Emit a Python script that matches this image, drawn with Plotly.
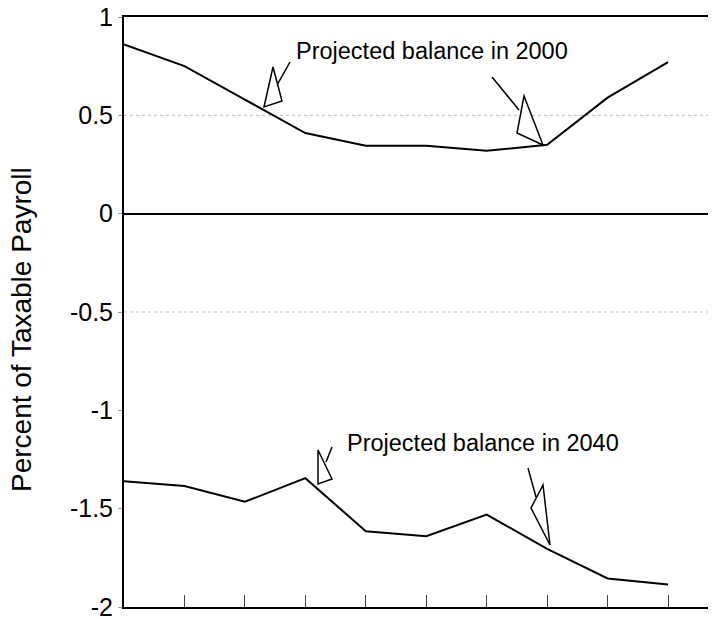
import plotly.graph_objects as go

# ---- data ----
x_index = [0, 1, 2, 3, 4, 5, 6, 7, 8, 9]
balance_2000 = [0.86, 0.75, 0.58, 0.41, 0.345, 0.345, 0.32, 0.35, 0.59, 0.77]
balance_2040 = [-1.36, -1.385, -1.465, -1.345, -1.615, -1.64, -1.53, -1.705, -1.855, -1.885]
y_tick_vals = [1, 0.5, 0, -0.5, -1, -1.5, -2]
y_tick_text = ["1", "0.5", "0", "-0.5", "-1", "-1.5", "-2"]
x_tick_vals = [1, 2, 3, 4, 5, 6, 7, 8, 9]
label_2000 = "Projected balance in 2000"
label_2040 = "Projected balance in 2040"
y_title = "Percent of Taxable Payroll"

# the page body has an 8px default margin, so the figure is offset by 8px
OFF = 8
W, H = 716 - OFF, 619 - OFF
ML, MR, MT, MB = 124 - OFF, 0, 17 - OFF, 12
XPX = 60.45
X_MAX = (W - ML - MR) / XPX
Y_MIN, Y_MAX = -2, 1
PH = H - MT - MB
PW = W - ML - MR

FONT = "Liberation Sans Narrow, Arial Narrow, Liberation Sans, Arial, sans-serif"


def px(xp, yp):
    """convert a page pixel location to data coordinates (for callout decoration)"""
    xf, yf = xp - OFF, yp - OFF
    return (xf - ML) / XPX, Y_MAX - (yf - MT) / PH * (Y_MAX - Y_MIN)


def path(points, close=False):
    s = ""
    for i, (a, b) in enumerate(points):
        dx, dy = px(a, b)
        s += ("M" if i == 0 else "L") + f"{dx:.4f},{dy:.4f} "
    if close:
        s += "Z"
    return s


fig = go.Figure()
fig.add_trace(go.Scatter(x=x_index, y=balance_2000, mode="lines",
                         line=dict(color="black", width=2), showlegend=False))
fig.add_trace(go.Scatter(x=x_index, y=balance_2040, mode="lines",
                         line=dict(color="black", width=2), showlegend=False))

shapes = []
# dotted gridlines
for gv in [0.5, -0.5]:
    shapes.append(dict(type="line", xref="paper", yref="y", x0=0, x1=1, y0=gv, y1=gv,
                       line=dict(color="#bdbdbd", width=1, dash="dot"), layer="below"))

# hand-drawn callout arrows (lines + hollow wedges)
callouts = [
    ([(290, 62), (277, 85)], [(273, 67), (264, 107), (282, 101)]),
    ([(492, 77), (519, 110)], [(524, 96), (517, 133), (543, 145)]),
    ([(332, 447), (326, 462)], [(318, 450), (318, 484), (332, 479)]),
    ([(528, 468), (536, 497)], [(543, 485), (531, 508), (550, 545)]),
]
for ln, tri in callouts:
    shapes.append(dict(type="path", xref="x", yref="y", path=path(ln),
                       line=dict(color="black", width=1.5)))
    shapes.append(dict(type="path", xref="x", yref="y", path=path(tri, close=True),
                       line=dict(color="black", width=1.5), fillcolor="white"))

ax0, ay0 = px(294, 51)
ax1, ay1 = px(345, 443)
annotations = [
    dict(x=ax0, y=ay0, xref="x", yref="y", text=label_2000, showarrow=False,
         xanchor="left", yanchor="middle", font=dict(family=FONT, size=23.5, color="black")),
    dict(x=ax1, y=ay1, xref="x", yref="y", text=label_2040, showarrow=False,
         xanchor="left", yanchor="middle", font=dict(family=FONT, size=23.5, color="black")),
    dict(x=(21 - OFF - ML) / PW, y=1 - (330 - OFF - MT) / PH, xref="paper", yref="paper",
         text=y_title, showarrow=False, xanchor="center", yanchor="middle",
         textangle=-90, font=dict(family=FONT, size=28, color="black")),
]

fig.update_layout(
    width=W, height=H,
    margin=dict(l=ML, r=MR, t=MT, b=MB, autoexpand=False),
    plot_bgcolor="white", paper_bgcolor="white",
    shapes=shapes, annotations=annotations,
    xaxis=dict(range=[0, X_MAX], showline=True, linecolor="black", linewidth=2,
               mirror=True, showgrid=False, zeroline=False, automargin=False,
               tickvals=x_tick_vals, ticks="inside", ticklen=12, tickwidth=1,
               tickcolor="#444", showticklabels=False),
    yaxis=dict(range=[Y_MIN, Y_MAX], showline=True, linecolor="black", linewidth=2,
               showgrid=False, zeroline=True, zerolinecolor="black", zerolinewidth=2,
               automargin=False, ticklabeloverflow="allow",
               tickvals=y_tick_vals, ticktext=y_tick_text, ticks="outside", ticklen=4,
               tickcolor="#999", tickwidth=1,
               tickfont=dict(family=FONT, size=25, color="black")),
    font=dict(family=FONT, color="black"),
)

fig.write_html("out.html")
